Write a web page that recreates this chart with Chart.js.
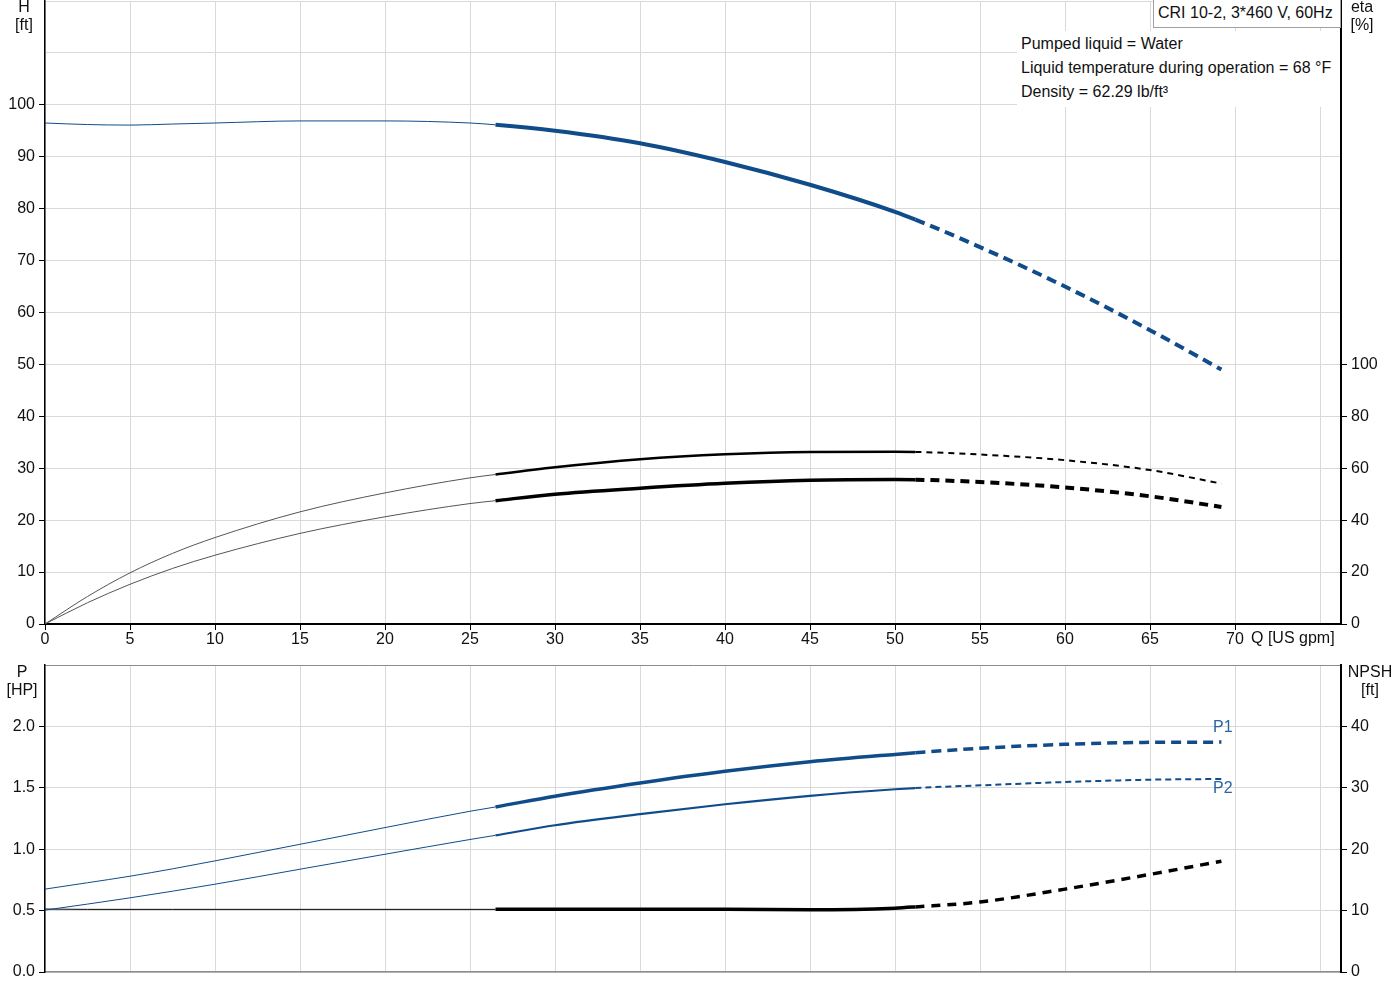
<!DOCTYPE html>
<html>
<head>
<meta charset="utf-8">
<script src="https://cdn.jsdelivr.net/npm/chart.js@4.4.1/dist/chart.umd.min.js"></script>
<style>
  body { margin: 0; background: #fff; width: 1400px; height: 1000px; overflow: hidden; position: relative;
         font-family: 'Liberation Sans', Arial, sans-serif; color: #111; }
  canvas { position: absolute; left: 0; }
  #topChart { top: 0; }
  #bottomChart { top: 650px; }
  .lbl { position: absolute; font-size: 16px; line-height: 18px; text-align: center; white-space: nowrap; }
  #pumpBox { position: absolute; left: 1153px; top: -1px; width: 188px; height: 29px; background: #fff;
             border: 1px solid #a0a0a0; box-sizing: border-box; font-size: 16px; line-height: 26px; padding-left: 4px; white-space: nowrap; }
  #infoBox { position: absolute; left: 1017px; top: 31px; width: 323px; height: 76px; background: #fff;
             font-size: 16px; line-height: 24px; padding: 1px 0 0 4px; box-sizing: border-box; white-space: nowrap; }
</style>
</head>
<body>
<canvas id="topChart" width="1400" height="650"></canvas>
<canvas id="bottomChart" width="1400" height="340"></canvas>

<div class="lbl" style="left:0;top:-2px;width:48px">H<br>[ft]</div>
<div class="lbl" style="left:1345px;top:-2px;width:34px">eta<br>[%]</div>
<div class="lbl" style="left:1251px;top:629px">Q [US gpm]</div>
<div class="lbl" style="left:0;top:663px;width:44px">P<br>[HP]</div>
<div class="lbl" style="left:1346px;top:663px;width:48px">NPSH<br>[ft]</div>
<div class="lbl" style="left:1213px;top:718px;color:#2a64a4">P1</div>
<div class="lbl" style="left:1213px;top:779px;color:#2a64a4">P2</div>
<div id="pumpBox">CRI 10-2, 3*460 V, 60Hz</div>
<div id="infoBox">Pumped liquid = Water<br>Liquid temperature during operation = 68 °F<br>Density = 62.29 lb/ft³</div>

<script>
// flow points (US gpm)
const flowQ    = [0, 2.5, 5, 7.5, 10, 15, 20, 25, 26.5, 30, 35, 40, 45, 50, 51.2, 55, 60, 65, 69.2];
// head [ft]
const headH    = [96.5, 96.2, 96.1, 96.3, 96.5, 96.9, 96.9, 96.5, 96.15, 95.0, 92.6, 89.0, 84.6, 79.4, 77.9, 72.6, 65.0, 56.6, 49.0];
// efficiencies [%]
const etaPump  = [0, 10.6, 19.7, 27.2, 33.3, 43.2, 50.5, 56.3, 57.6, 60.4, 63.5, 65.4, 66.3, 66.4, 66.3, 65.3, 63.1, 59.3, 54.1];
const etaTotal = [0, 8.2, 15.3, 21.4, 26.5, 34.9, 41.3, 46.4, 47.5, 50.0, 52.3, 54.2, 55.4, 55.7, 55.6, 54.7, 52.6, 49.2, 45.1];
// power [HP]
const powerP1  = [0.675, 0.727, 0.78, 0.84, 0.905, 1.04, 1.176, 1.309, 1.344, 1.432, 1.539, 1.634, 1.712, 1.772, 1.785, 1.822, 1.854, 1.87, 1.872];
const powerP2  = [0.504, 0.553, 0.604, 0.658, 0.715, 0.837, 0.959, 1.079, 1.113, 1.195, 1.285, 1.366, 1.435, 1.488, 1.498, 1.52, 1.547, 1.566, 1.572];
// NPSH [ft]
const npsh     = [10.25, 10.2, 10.2, 10.2, 10.2, 10.2, 10.2, 10.2, 10.2, 10.2, 10.2, 10.2, 10.15, 10.4, 10.6, 11.4, 13.5, 15.9, 18.05];

const qTicks = [0, 5, 10, 15, 20, 25, 30, 35, 40, 45, 50, 55, 60, 65, 70];
const hTicks = [0, 10, 20, 30, 40, 50, 60, 70, 80, 90, 100];
const etaTicks = [0, 20, 40, 60, 80, 100];
const pTicks = ['0.0', '0.5', '1.0', '1.5', '2.0'];
const npshTicks = [0, 10, 20, 30, 40];

const Q_START = 26.5, Q_END = 51.2;
const BLUE = '#104c8a';
const GRID = '#d9d9d9';
const FONT = { family: "'Liberation Sans', Arial, sans-serif", size: 16 };

function points(vals) {
  return flowQ.map((q, i) => ({ x: q, y: vals[i] }));
}

// thin before the operating range, solid inside, dashed after
function curve(label, vals, axis, color, thinColor, width, dashWidth, dash) {
  return {
    label,
    data: points(vals),
    yAxisID: axis,
    borderColor: color,
    borderWidth: width,
    pointRadius: 0,
    cubicInterpolationMode: 'monotone',
    segment: {
      borderWidth: ctx => ctx.p0.parsed.x < Q_START - 0.01 ? 1 : (ctx.p0.parsed.x >= Q_END - 0.01 ? dashWidth : width),
      borderColor: ctx => ctx.p0.parsed.x < Q_START - 0.01 ? thinColor : color,
      borderDash: ctx => ctx.p0.parsed.x >= Q_END - 0.01 ? dash : undefined
    }
  };
}

function fixWidth(w) {
  return s => { s.width = w; s.paddingTop = 0; s.paddingBottom = 0; };
}
function fixHeight(h) {
  return s => { s.height = h; s.paddingLeft = 0; s.paddingRight = 0; };
}

function xScale(showLabels, h, borderColor) {
  return {
    type: 'linear',
    min: 0,
    max: 1296 / 17,
    afterFit: fixHeight(h),
    afterBuildTicks: s => { s.ticks = qTicks.concat([75]).map(v => ({ value: v })); },
    border: { color: borderColor, width: showLabels ? 2 : 1.5 },
    grid: {
      color: GRID,
      drawTicks: showLabels,
      tickLength: 6,
      tickColor: ctx => ctx.tick && ctx.tick.value <= 70 ? '#000' : 'rgba(0,0,0,0)'
    },
    ticks: {
      display: showLabels,
      autoSkip: false,
      maxRotation: 0,
      padding: 0,
      color: '#111',
      font: FONT,
      callback: v => qTicks.includes(v) ? String(v) : ''
    }
  };
}

function yScale(pos, min, max, step, labels, width, borderWidth, gridOn, topColor) {
  return {
    type: 'linear',
    position: pos,
    min, max,
    afterFit: fixWidth(width),
    afterBuildTicks: s => {
      const t = [];
      for (let v = min; v <= max + 1e-9; v += step) t.push({ value: Math.round(v * 1000) / 1000 });
      s.ticks = t;
    },
    border: { color: '#000', width: borderWidth },
    grid: {
      drawOnChartArea: gridOn,
      color: ctx => (ctx.tick && Math.abs(ctx.tick.value - max) < 1e-6 && topColor) ? topColor : GRID,
      tickLength: 6,
      tickColor: ctx => ctx.index < labels.length ? '#000' : 'rgba(0,0,0,0)'
    },
    ticks: {
      autoSkip: false,
      padding: 4,
      color: '#111',
      font: FONT,
      callback: (v, i) => i < labels.length ? String(labels[i]) : ''
    }
  };
}

const base = {
  responsive: false,
  animation: false,
  devicePixelRatio: 1,
  plugins: { legend: { display: false }, tooltip: { enabled: false } }
};

new Chart(document.getElementById('topChart'), {
  type: 'line',
  data: {
    datasets: [
      curve('H', headH, 'yH', BLUE, BLUE, 4, 4, [10, 6]),
      curve('eta', etaPump, 'yE', '#000', '#555', 2.5, 2, [6, 5]),
      curve('eta total', etaTotal, 'yE', '#000', '#555', 3.5, 4, [9, 6])
    ]
  },
  options: Object.assign({}, base, {
    layout: { padding: { top: 1, left: 0, right: 0, bottom: 0 } },
    scales: {
      x: xScale(true, 26, '#000'),
      yH: yScale('left', 0, 120, 10, hTicks, 45, 1.5, true, null),
      yE: yScale('right', 0, 240, 20, etaTicks, 59, 2, false, null)
    }
  })
});

new Chart(document.getElementById('bottomChart'), {
  type: 'line',
  data: {
    datasets: [
      curve('P1', powerP1, 'yP', BLUE, BLUE, 3.5, 3.5, [10, 6]),
      curve('P2', powerP2, 'yP', BLUE, BLUE, 2.2, 2, [6, 4]),
      curve('NPSH', npsh, 'yN', '#000', '#000', 3.5, 3.5, [9, 7])
    ]
  },
  options: Object.assign({}, base, {
    layout: { padding: { top: 15, left: 0, right: 0, bottom: 0 } },
    scales: {
      x: xScale(false, 18, '#8c8c8c'),
      yP: yScale('left', 0, 2.5, 0.5, pTicks, 45, 1.5, true, '#8c8c8c'),
      yN: yScale('right', 0, 50, 10, npshTicks, 59, 2, false, null)
    }
  })
});
</script>
</body>
</html>
